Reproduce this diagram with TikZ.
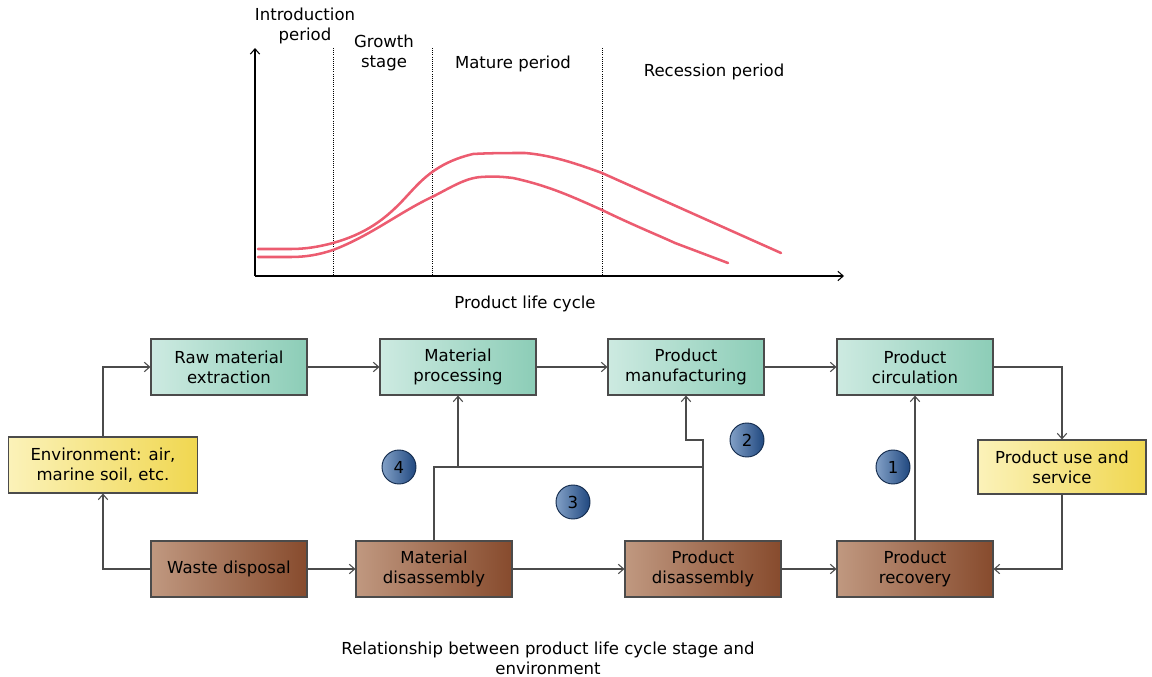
\documentclass[tikz,border=0pt]{standalone}
\usepackage{fontspec}
\setmainfont{DejaVu Sans}
\usetikzlibrary{arrows.meta,positioning}

\definecolor{tealL}{RGB}{205,234,225}
\definecolor{tealR}{RGB}{140,205,183}
\definecolor{yelL}{RGB}{251,242,185}
\definecolor{yelR}{RGB}{240,215,80}
\definecolor{brnL}{RGB}{192,152,128}
\definecolor{brnR}{RGB}{135,75,45}
\definecolor{ballL}{RGB}{130,160,198}
\definecolor{ballR}{RGB}{32,72,128}
\definecolor{curve}{RGB}{236,92,112}
\definecolor{edge}{RGB}{75,75,75}

\begin{document}
\begin{tikzpicture}[x=0.75pt,y=0.75pt,yscale=-1,xscale=1,
    font=\fontsize{12.4}{15}\selectfont,
    >={Straight Barb[length=4pt,width=7pt]},
    stagebox/.style={draw=edge,line width=0.8pt,minimum width=117pt,minimum height=42pt,align=center,inner sep=2pt},
    makebox/.style={stagebox,left color=tealL,right color=tealR},
    wastebox/.style={stagebox,left color=brnL,right color=brnR},
    envbox/.style={stagebox,left color=yelL,right color=yelR},
    ball/.style={circle,draw=ballR!60!black,line width=0.7pt,minimum size=25.5pt,inner sep=0pt,left color=ballL,right color=ballR},
    link/.style={draw=edge,line width=0.8pt},
    lifecurve/.style={draw=curve,line width=1.9pt,line cap=round}]
        \useasboundingbox (0,0) rectangle (1152,677);

        %Axes
        \coordinate (origin) at (255,276);
        \coordinate (ytop) at (255,48);
        \coordinate (xend) at (844,276);
        \draw [->,line width=0.8pt] (origin) -- (ytop);
        \draw [->,line width=0.8pt] (origin) -- (xend);
        %Dotted stage borders
        \foreach \x in {333,432,602}
            \draw [densely dotted,line width=0.6pt] (\x,48) -- (\x,276);

        %Curves
        \draw [lifecurve] (258,249) -- (291,249) .. controls (305,249) and (318,247) .. (333,243)
            .. controls (365,234) and (385,220) .. (406,197) .. controls (420,182) and (435,163) .. (473,154)
            .. controls (490,153) and (510,153) .. (525,153) .. controls (550,155) and (575,163) .. (602,173)
            -- (781,253);
        \draw [lifecurve] (258,257) -- (291,257) .. controls (305,257) and (318,255) .. (333,250)
            .. controls (370,236) and (400,212) .. (432,197) .. controls (450,188) and (465,178) .. (481,177)
            .. controls (495,176) and (505,177) .. (513,178) .. controls (550,186) and (575,198) .. (602,210)
            .. controls (635,226) and (660,236) .. (675,243) -- (728,263);

        % Text Node
        \node (tintro) at (305,26) [align=center] {Introduction\\period};
        % Text Node
        \node (tgrowth) at (384,53) [align=center] {Growth\\stage};
        % Text Node
        \node (tmature) at (513,64) {Mature period};
        % Text Node
        \node (treces) at (714,72) {Recession period};
        % Text Node
        \node (tcycle) at (525,304) {Product life cycle};

        %Stage boxes
        \node [makebox] (raw) at (229,367) {Raw material\\extraction};
        \node [makebox] (mproc) at (458,367) {Material\\processing};
        \node [makebox] (pmanu) at (686,367) {Product\\manufacturing};
        \node [makebox] (pcirc) at (915,367) {Product\\circulation};
        \node [envbox,minimum width=141.75pt] (env) at (103,465) {Environment: air,\\marine soil, etc.};
        \node [envbox,minimum width=126pt,minimum height=40.5pt] (puse) at (1062,467) {Product use and\\service};
        \node [wastebox] (waste) at (229,569) {Waste disposal};
        \node [wastebox] (mdis) at (434,569) {Material\\disassembly};
        \node [wastebox] (pdis) at (703,569) {Product\\disassembly};
        \node [wastebox] (prec) at (915,569) {Product\\recovery};

        %Numbered balls
        \node [ball] (c1) at (893,467) {1};
        \node [ball] (c2) at (747,440) {2};
        \node [ball] (c3) at (573,502) {3};
        \node [ball] (c4) at (399,467) {4};

        %Connectors
        \coordinate (mjoin) at (458,467);
        \coordinate (pjoin) at (703,467);
        \coordinate (pbend) at (703,440);
        \draw [link,->] (env.north) |- (raw.west);
        \draw [link,->] (waste.west) -| (env.south);
        \draw [link,->] (raw) -- (mproc);
        \draw [link,->] (mproc) -- (pmanu);
        \draw [link,->] (pmanu) -- (pcirc);
        \draw [link,->] (pcirc.east) -| (puse.north);
        \draw [link,->] (puse.south) |- (prec.east);
        \draw [link,->] (prec.north) -- (pcirc.south);
        \draw [link,->] (waste) -- (mdis);
        \draw [link,->] (mdis) -- (pdis);
        \draw [link,->] (pdis) -- (prec);
        \draw [link] (mdis.north) |- (pjoin);
        \draw [link,->] (mjoin) -- (mproc.south);
        \draw [link,->] (pdis.north) -- (pbend) -| (pmanu.south);

        % Text Node
        \node (caption) at (548,658) [align=center] {Relationship between product life cycle stage and\\environment};
\end{tikzpicture}
\end{document}
